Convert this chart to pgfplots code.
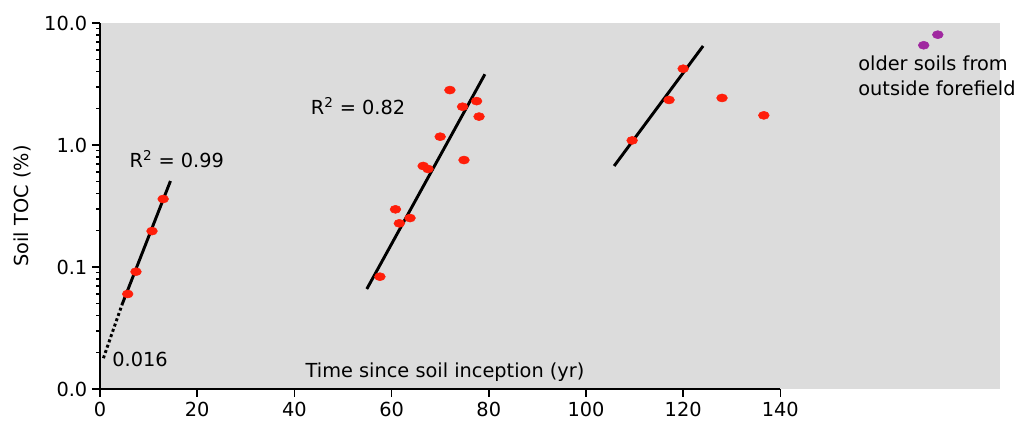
\documentclass[border=0pt]{standalone}
\usepackage{fontspec}
\setmainfont{DejaVu Sans}
\usepackage{pgfplots}
\pgfplotsset{compat=1.18}
\definecolor{bggray}{RGB}{220,220,220}
\definecolor{dotred}{RGB}{255,30,10}
\definecolor{dotpurple}{RGB}{160,40,160}
\newcommand{\lbl}{\fontsize{14.5}{17}\selectfont}

\begin{document}
\begin{tikzpicture}
\useasboundingbox (-75pt,-24.75pt) rectangle (693pt,291.75pt);
\begin{axis}[
    scale only axis,
    width=675pt, height=274.5pt,
    at={(0,0)}, anchor=south west,
    ymode=log,
    xmin=0, xmax=185.2,
    ymin=0.01, ymax=10,
    axis lines*=left,
    x axis line style={draw=none},
    y axis line style={line width=1.1pt},
    axis background/.style={fill=bggray},
    xtick={0,20,40,60,80,100,120,140},
    xticklabels={0,20,40,60,80,100,120,140},
    ytick={0.01,0.1,1,10},
    yticklabels={0.0,0.1,1.0,10.0},
    minor ytick={},
    log ticks with fixed point,
    tick align=outside,
    major tick length=6pt,
    every tick/.style={black, line width=1.1pt},
    tick label style={font=\lbl},
    ylabel={Soil TOC (\%)},
    ylabel style={font=\lbl, yshift=3pt},
    clip=false,
]
\draw[line width=1.1pt] (axis cs:0,0.01) -- (axis cs:140,0.01);

% trend lines
\addplot[black, line width=2.2pt] coordinates {(4.5,0.0488) (14.5,0.507)};
\addplot[black, line width=2.2pt, dotted] coordinates {(0.7,0.0179) (4.5,0.0488)};
\addplot[black, line width=2.2pt] coordinates {(54.9,0.066) (79.2,3.80)};
\addplot[black, line width=2.2pt] coordinates {(105.8,0.673) (124.1,6.48)};

% soil TOC data
\addplot[only marks, mark=*, mark size=3pt, mark options={xscale=1.35, draw=dotred, fill=dotred}] coordinates {
    (5.7,0.0601) (7.4,0.0915) (10.7,0.197) (13.0,0.361)
    (72.0,2.82) (74.6,2.06) (77.5,2.29) (78.0,1.71) (70.0,1.17) (74.9,0.753)
    (66.5,0.673) (67.5,0.636) (60.8,0.297) (61.6,0.228) (63.8,0.252) (57.6,0.0833)
    (120.0,4.22) (117.1,2.34) (109.5,1.09) (128.0,2.43) (136.6,1.75)
};
\addplot[only marks, mark=*, mark size=3pt, mark options={xscale=1.35, draw=dotpurple, fill=dotpurple}] coordinates {
    (172.4,8.02) (169.5,6.57)
};

\node[font=\lbl] at (axis cs:15.8,0.77) {R\textsuperscript{2} = 0.99};
\node[font=\lbl] at (axis cs:53.1,2.09) {R\textsuperscript{2} = 0.82};
\node[font=\lbl, anchor=west, inner sep=0pt] at (axis cs:2.5,0.0176) {0.016};
\node[font=\lbl] at (axis cs:71.0,0.0138) {Time since soil inception (yr)};
\node[font=\lbl, anchor=west, inner sep=0pt] at (axis cs:156,4.70) {older soils from};
\node[font=\lbl, anchor=west, inner sep=0pt] at (axis cs:156,2.93) {outside forefield};
\end{axis}
\end{tikzpicture}
\end{document}
